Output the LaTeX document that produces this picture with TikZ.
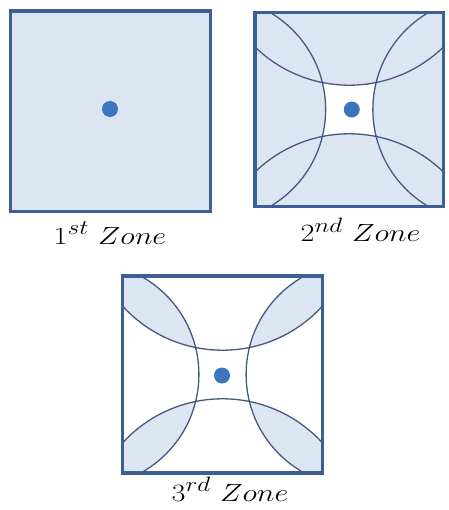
\documentclass[tikz,border=0pt]{standalone}
\usepackage{graphicx}
\definecolor{zonefill}{HTML}{DCE5F2}
\definecolor{zoneborder}{HTML}{3D5F95}
\definecolor{arccol}{HTML}{46597F}
\definecolor{dotcol}{HTML}{3A75BD}
\tikzset{
  boxline/.style={draw=zoneborder, line width=3.4pt, line join=miter},
  arcline/.style={draw=arccol, line width=1.3pt},
  zdot/.style={circle, fill=dotcol, minimum size=16pt, inner sep=0pt},
  zlabel/.style={anchor=base, inner sep=0pt, font=\Huge}
}
\newcommand{\zlab}[1]{\scalebox{1.22}[1]{$#1$}}
\begin{document}
\begin{tikzpicture}[x=1pt, y=-1pt]
\useasboundingbox[fill=white] (0,0) rectangle (448,510);

% ---------- 1st zone ----------
\fill[zonefill] (10.5,11) rectangle (210.5,211.5);
\draw[boxline] (10.5,11) rectangle (210.5,211.5);
\node[zdot] (dot1) at (110,109) {};
\node[zlabel] (lab1) at (110,244) {\zlab{1^{st}\ Zone}};

% ---------- 2nd zone ----------
\begin{scope}[shift={(349.25,109.5)}]
  \fill[white] (-94.25,-97) rectangle (94.25,97);
  \begin{scope}
    \clip (-94.25,-97) rectangle (94.25,97);
    \fill[zonefill] (-136,0) circle[radius=112.4pt] (136,0) circle[radius=112.4pt]
                    (0,-159.5) circle[radius=135.2pt] (0,159.5) circle[radius=135.2pt];
    \draw[arcline] (-136,0) circle[radius=112.4pt] (136,0) circle[radius=112.4pt]
                   (0,-159.5) circle[radius=135.2pt] (0,159.5) circle[radius=135.2pt];
  \end{scope}
  \draw[boxline] (-94.25,-97) rectangle (94.25,97);
  \node[zdot] (dot2) at (2.5,0) {};
\end{scope}
\node[zlabel] (lab2) at (360.5,241.5) {\zlab{2^{nd}\ Zone}};

% ---------- 3rd zone ----------
\begin{scope}[shift={(222.5,374.5)}]
  \fill[white] (-100,-98.5) rectangle (100,98.5);
  \begin{scope}
    \clip (-100,-98.5) rectangle (100,98.5);
    \begin{scope}
      \clip (-136,0) circle[radius=112.4pt];
      \fill[zonefill] (0,-159.5) circle[radius=135.2pt] (0,159.5) circle[radius=135.2pt];
    \end{scope}
    \begin{scope}
      \clip (136,0) circle[radius=112.4pt];
      \fill[zonefill] (0,-159.5) circle[radius=135.2pt] (0,159.5) circle[radius=135.2pt];
    \end{scope}
    \draw[arcline] (-136,0) circle[radius=112.4pt] (136,0) circle[radius=112.4pt]
                   (0,-159.5) circle[radius=135.2pt] (0,159.5) circle[radius=135.2pt];
  \end{scope}
  \draw[boxline] (-100,-98.5) rectangle (100,98.5);
  \node[zdot] (dot3) at (-0.5,1) {};
\end{scope}
\node[zlabel] (lab3) at (230,501) {\zlab{3^{rd}\ Zone}};
\end{tikzpicture}
\end{document}
